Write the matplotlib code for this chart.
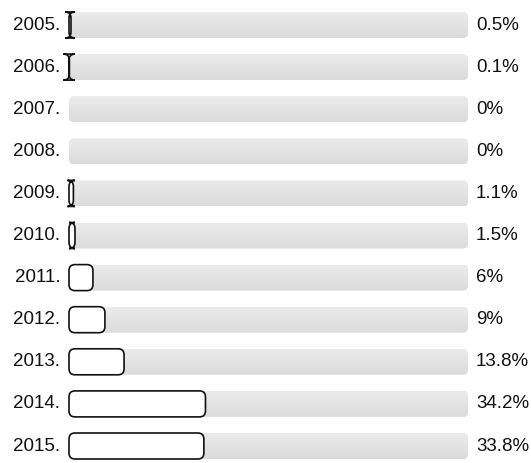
import matplotlib
matplotlib.use('Agg')
import matplotlib.pyplot as plt
from matplotlib.patches import PathPatch
from matplotlib.path import Path
import numpy as np

years = ['2005', '2006', '2007', '2008', '2009', '2010',
         '2011', '2012', '2013', '2014', '2015']
shares = [0.5, 0.1, 0, 0, 1.1, 1.5, 6, 9, 13.8, 34.2, 33.8]
share_labels = ['0.5%', '0.1%', '0%', '0%', '1.1%', '1.5%',
                '6%', '9%', '13.8%', '34.2%', '33.8%']

W, H = 531, 463
fig = plt.figure(figsize=(W / 100, H / 100), dpi=100)
fig.patch.set_facecolor('white')

# track spans x=69..468 px, rows every 42.1 px starting at y=25
x0_px, x1_px = 69, 468
row_px = 42.1
ax = fig.add_axes([x0_px / W, 0, (x1_px - x0_px) / W, 1])
ax.set_xlim(0, 100)
top = -25 / row_px
ax.set_ylim(top + H / row_px, top)
ax.axis('off')

pct_per_px = 100 / (x1_px - x0_px)
rows_per_px = 1 / row_px
bar_h = 26 * rows_per_px


def rounded(x, y, w, h, r_px):
    # corner radius is not clamped, so very thin bars turn into little I-beams
    rx = r_px * pct_per_px
    ry = r_px * rows_per_px
    x1, y1 = x + w, y + h
    verts = [(x + rx, y), (x1 - rx, y), (x1, y), (x1, y + ry),
             (x1, y1 - ry), (x1, y1), (x1 - rx, y1),
             (x + rx, y1), (x, y1), (x, y1 - ry),
             (x, y + ry), (x, y), (x + rx, y), (x + rx, y)]
    codes = [Path.MOVETO, Path.LINETO, Path.CURVE3, Path.CURVE3,
             Path.LINETO, Path.CURVE3, Path.CURVE3,
             Path.LINETO, Path.CURVE3, Path.CURVE3,
             Path.LINETO, Path.CURVE3, Path.CURVE3, Path.CLOSEPOLY]
    return Path(verts, codes)


grad = np.linspace(0, 1, 64).reshape(-1, 1)
gray = matplotlib.colors.LinearSegmentedColormap.from_list('g', ['#ebebeb', '#dbdbdb'])
font = dict(family=['Liberation Sans', 'DejaVu Sans'], fontsize=13.5, color='#111111')

for i, (yr, v, lab) in enumerate(zip(years, shares, share_labels)):
    y = i - bar_h / 2
    bg = PathPatch(rounded(0, y, 100, bar_h, 5), facecolor='none',
                   edgecolor='none', zorder=1)
    ax.add_patch(bg)
    im = ax.imshow(grad, cmap=gray, extent=(0, 100, y + bar_h, y),
                   aspect='auto', zorder=1, interpolation='bilinear')
    im.set_clip_path(bg)
    if v > 0:
        fg = PathPatch(rounded(0, y, v, bar_h, 6), facecolor='white',
                       edgecolor='#111111', linewidth=1.2, zorder=2,
                       clip_on=False)
        ax.add_patch(fg)
    ax.text(-8.5 * pct_per_px, i, yr + '.', ha='right', va='center',
            clip_on=False, **font)
    ax.text(100 + 8 * pct_per_px, i, lab, ha='left', va='center',
            clip_on=False, **font)

ax.set_xlim(0, 100)
ax.set_ylim(top + H / row_px, top)
fig.savefig('out.png', dpi=100)
